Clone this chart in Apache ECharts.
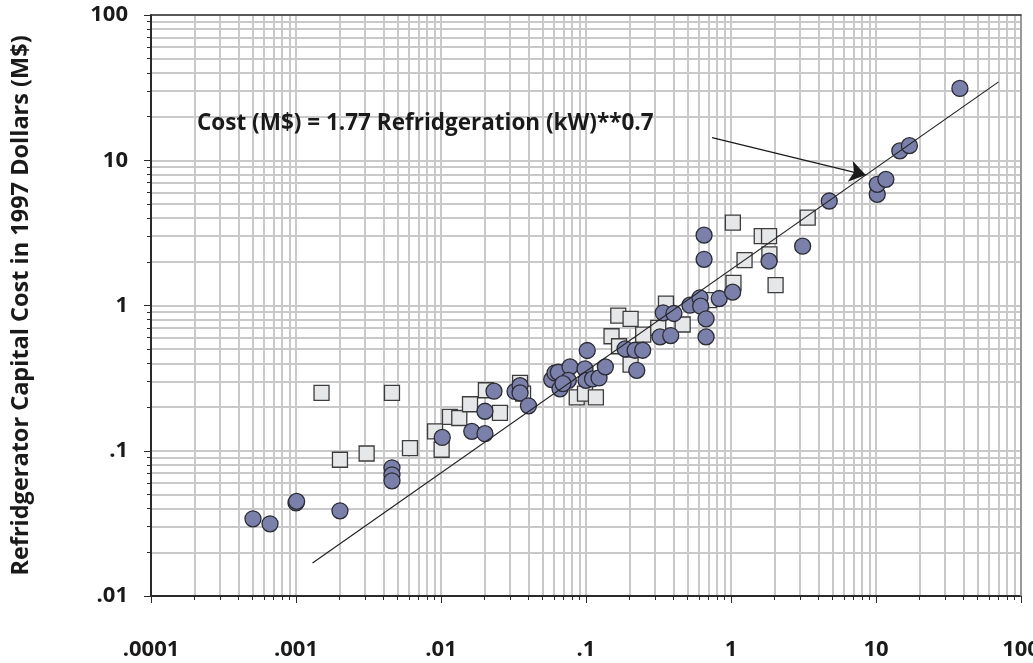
<!DOCTYPE html>
<html>
<head>
<meta charset="utf-8">
<script src="https://cdn.jsdelivr.net/npm/echarts@6/dist/echarts.min.js"></script>
<style>
  html, body { margin: 0; padding: 0; background: #ffffff; }
  #chart { width: 1033px; height: 663px; }
</style>
</head>
<body>
<div id="chart"></div>
<script>
// Axis decades and their printed labels
const xTickValues = [1e-4, 1e-3, 1e-2, 1e-1, 1, 10, 100];
const xTickLabels = ['.0001', '.001', '.01', '.1', '1', '10', '100'];
const yTickValues = [0.01, 0.1, 1, 10, 100];
const yTickLabels = ['.01', '.1', '1', '10', '100'];

// Refrigerators shown as filled circles: refrigeration (kW) and cost (M$)
const circleKW = [
  0.000505, 0.000662, 0.00100, 0.00101, 0.00201, 0.00459, 0.00459, 0.00459,
  0.0102, 0.0163, 0.0201, 0.0201, 0.0232, 0.0324, 0.0351, 0.0351, 0.0401,
  0.0580, 0.0611, 0.0644, 0.0662, 0.0776, 0.0755, 0.0694, 0.0984, 0.100,
  0.111, 0.123, 0.136, 0.102, 0.186, 0.218, 0.246, 0.224, 0.324, 0.384,
  0.341, 0.404, 0.521, 0.611, 0.618, 0.673, 0.673, 0.830, 1.027, 0.652,
  0.652, 1.83, 3.12, 4.76, 10.2, 10.2, 11.7, 14.6, 17.0, 37.9
];
const circleCost = [
  0.0340, 0.0314, 0.0437, 0.0448, 0.0386, 0.0763, 0.0683, 0.0621,
  0.1235, 0.136, 0.131, 0.187, 0.257, 0.256, 0.281, 0.250, 0.204,
  0.309, 0.343, 0.347, 0.267, 0.378, 0.305, 0.290, 0.366, 0.305,
  0.312, 0.317, 0.378, 0.490, 0.503, 0.492, 0.492, 0.358, 0.608, 0.621,
  0.891, 0.881, 1.005, 1.13, 0.989, 0.810, 0.608, 1.117, 1.236, 3.05,
  2.08, 2.02, 2.56, 5.24, 5.83, 6.83, 7.39, 11.6, 12.6, 31.2
];

// Refrigerators shown as open squares
const squareKW = [
  0.00150, 0.00459, 0.00201, 0.00307, 0.00611, 0.00910, 0.0101, 0.01153,
  0.01337, 0.01585, 0.0204, 0.0255, 0.0351, 0.0368, 0.0863, 0.0984, 0.117,
  0.150, 0.169, 0.167, 0.203, 0.248, 0.203, 0.315, 0.356, 0.464, 0.705,
  1.04, 1.03, 1.63, 1.83, 1.84, 1.24, 2.03, 3.38
];
const squareCost = [
  0.250, 0.250, 0.0867, 0.0957, 0.1044, 0.136, 0.1016, 0.171,
  0.168, 0.209, 0.261, 0.182, 0.293, 0.247, 0.233, 0.247, 0.233,
  0.614, 0.524, 0.853, 0.810, 0.631, 0.392, 0.702, 1.03, 0.740, 1.09,
  1.43, 3.72, 3.00, 3.00, 2.25, 2.05, 1.38, 4.03
];

// Fitted cost law, Cost = 1.77 * kW^0.7, drawn over this kW span
const fitCoef = 1.77;
const fitExp = 0.7;
const fitKW = [0.0013, 70];
const equationText = 'Cost (M$) = 1.77 Refridgeration (kW)**0.7';

// Pointer from the equation to the fitted line (kW, M$)
const arrowFrom = [0.74, 14.3];
const arrowTo = [8.5, 7.9];

// Grid values 1..9 inside every decade
function decadeValues(lo, hi) {
  const out = [];
  for (let e = lo; e < hi; e++) {
    for (let m = 1; m <= 9; m++) out.push(m * Math.pow(10, e));
  }
  out.push(Math.pow(10, hi));
  return out;
}
const xGridValues = decadeValues(-4, 2);
const yGridValues = decadeValues(-2, 2);

function labelFor(values, labels) {
  return function (v) {
    const p = Math.round(Math.log10(v));
    for (let i = 0; i < values.length; i++) {
      if (Math.round(Math.log10(values[i])) === p) return labels[i];
    }
    return '';
  };
}

const FONT = "'Open Sans', 'Noto Sans', 'DejaVu Sans', sans-serif";
const GRID_COLOR = '#c9c9c9';
const INK = '#1a1a1a';

const circles = circleKW.map((x, i) => [x, circleCost[i]]);
const squares = squareKW.map((x, i) => [x, squareCost[i]]);
const fitLine = fitKW.map(x => [x, fitCoef * Math.pow(x, fitExp)]);

const chart = echarts.init(document.getElementById('chart'), null, { renderer: 'canvas' });

chart.setOption({
  animation: false,
  backgroundColor: '#ffffff',
  grid: { show: false, containLabel: false, outerBoundsMode: 'none',
          left: 151, right: 12, top: 15, bottom: 67 },
  xAxis: [
    {
      type: 'log', logBase: 10, min: 1e-4, max: 100, position: 'bottom',
      axisLine: { show: true, lineStyle: { color: '#2a2a2a', width: 2 } },
      axisTick: { show: true, inside: false, length: 4, customValues: xGridValues,
                  lineStyle: { color: '#2a2a2a', width: 1 } },
      axisLabel: { show: true, customValues: xTickValues, margin: 43,
                   alignMinLabel: 'center', alignMaxLabel: 'center',
                   showMinLabel: true, showMaxLabel: true, hideOverlap: false,
                   formatter: labelFor(xTickValues, xTickLabels),
                   fontFamily: FONT, fontWeight: 'bold', fontSize: 22, color: INK },
      splitLine: { show: true, lineStyle: { color: GRID_COLOR, width: 2 } },
      minorTick: { show: false }, minorSplitLine: { show: false }, z: 1
    },
    {
      type: 'log', logBase: 10, min: 1e-4, max: 100, position: 'bottom',
      axisLine: { show: false },
      axisTick: { show: true, inside: false, length: 7, customValues: xTickValues,
                  lineStyle: { color: '#2a2a2a', width: 1 } },
      axisLabel: { show: false }, splitLine: { show: false }, z: 6
    },
    {
      type: 'log', logBase: 10, min: 1e-4, max: 100, position: 'top',
      axisLine: { show: true, lineStyle: { color: '#333333', width: 1.5 } },
      axisTick: { show: false }, axisLabel: { show: false }, splitLine: { show: false }, z: 6
    }
  ],
  yAxis: [
    {
      type: 'log', logBase: 10, min: 0.01, max: 100, position: 'left',
      name: 'Refridgerator Capital Cost in 1997 Dollars (M$)',
      nameLocation: 'middle', nameGap: 118, nameRotate: 90,
      nameTextStyle: { fontFamily: FONT, fontWeight: 'bold', fontSize: 23.5, color: INK,
                       padding: [0, 0, 0, 0] },
      axisLine: { show: true, lineStyle: { color: '#2a2a2a', width: 2 } },
      axisTick: { show: true, inside: false, length: 4, customValues: yGridValues,
                  lineStyle: { color: '#2a2a2a', width: 1 } },
      axisLabel: { show: true, customValues: yTickValues, margin: 23,
                   formatter: labelFor(yTickValues, yTickLabels),
                   fontFamily: FONT, fontWeight: 'bold', fontSize: 22, color: INK },
      splitLine: { show: true, lineStyle: { color: GRID_COLOR, width: 2 } },
      minorTick: { show: false }, minorSplitLine: { show: false }, z: 1
    },
    {
      type: 'log', logBase: 10, min: 0.01, max: 100, position: 'left',
      axisLine: { show: false },
      axisTick: { show: true, inside: false, length: 7, customValues: yTickValues,
                  lineStyle: { color: '#2a2a2a', width: 1 } },
      axisLabel: { show: false }, splitLine: { show: false }, z: 6
    },
    {
      type: 'log', logBase: 10, min: 0.01, max: 100, position: 'right',
      axisLine: { show: true, lineStyle: { color: '#8a8a8a', width: 1.5 } },
      axisTick: { show: false }, axisLabel: { show: false }, splitLine: { show: false }, z: 6
    }
  ],
  graphic: [
    {
      type: 'text', left: 197, top: 112, z: 10,
      style: { text: equationText, font: "bold 22.5px 'Open Sans', 'Noto Sans', sans-serif",
               fill: INK }
    }
  ],
  series: [
    {
      name: 'squares', type: 'scatter', symbol: 'rect', symbolSize: 15,
      xAxisIndex: 0, yAxisIndex: 0, z: 3,
      itemStyle: { color: '#e6e7e9', borderColor: '#3c3c3c', borderWidth: 1.3, opacity: 1 },
      data: squares
    },
    {
      name: 'circles', type: 'scatter', symbol: 'circle', symbolSize: 16,
      xAxisIndex: 0, yAxisIndex: 0, z: 4,
      itemStyle: { color: '#7a80a9', borderColor: '#2b2b35', borderWidth: 1.3, opacity: 1 },
      data: circles
    },
    {
      name: 'fit', type: 'line', xAxisIndex: 0, yAxisIndex: 0, z: 5,
      showSymbol: false, symbol: 'none', silent: true,
      lineStyle: { color: '#222222', width: 1.2 },
      data: fitLine,
      markLine: {
        silent: true, symbol: ['none', 'arrow'], symbolSize: 16,
        label: { show: false },
        emphasis: { disabled: true },
        itemStyle: { color: '#1a1a1a' },
        lineStyle: { color: '#1a1a1a', width: 1.2, type: 'solid' },
        data: [[{ coord: arrowFrom }, { coord: arrowTo }]]
      }
    }
  ]
});
</script>
</body>
</html>
